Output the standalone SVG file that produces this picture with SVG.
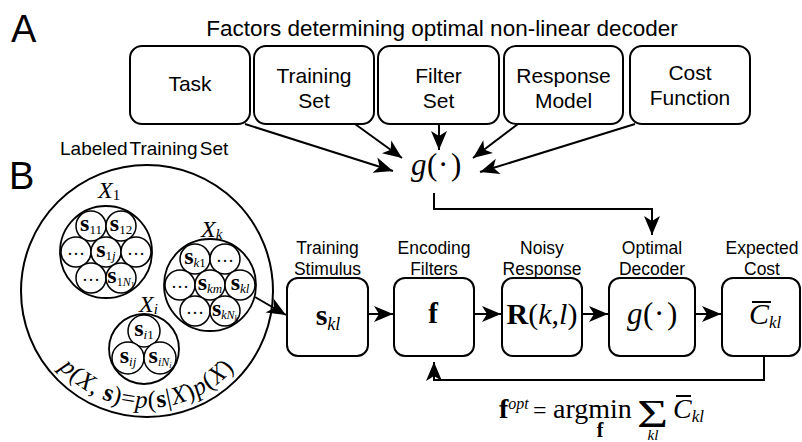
<svg xmlns="http://www.w3.org/2000/svg" width="802" height="442" viewBox="0 0 802 442">
<style>
.box{fill:#fff;stroke:#000;stroke-width:2}
.ln{fill:none;stroke:#000;stroke-width:2}
.sans{font-family:"Liberation Sans",Arial,sans-serif;fill:#000}
.ser{font-family:"Liberation Serif","Times New Roman",serif;fill:#000}
.big{fill:none;stroke:#000;stroke-width:2}
.grp{fill:#fff;stroke:#000;stroke-width:1.8}
.sc{fill:#fff;stroke:#000;stroke-width:1.5}
.st{font-family:"Liberation Serif","Times New Roman",serif;font-size:24px;text-anchor:middle}
.dots{font-family:"Liberation Serif","Times New Roman",serif;font-size:18px;text-anchor:middle}
.b{font-weight:bold}
.i{font-style:italic}
.m{text-anchor:middle}
</style>
<defs>
<marker id="ah" viewBox="-20 -10 22 20" markerWidth="22" markerHeight="20" refX="0" refY="0" markerUnits="userSpaceOnUse" orient="auto">
<path d="M0,0 L-19,-8 L-14,0 L-19,8 Z" fill="#000"/>
</marker>
<path id="arcp" d="M37.1,331 A117,117 0 0 0 256.9,331"/>
</defs>

<g id="panel-labels">
<text x="11" y="42" class="sans" font-size="38">A</text>
<text x="9" y="189" class="sans" font-size="38">B</text>
<text x="442" y="36" class="sans m" font-size="22.5">Factors determining optimal non-linear decoder</text>
</g>

<g id="task"><rect class="box" x="130" y="46" width="120" height="78" rx="12"/><text x="190" y="91" class="sans m" font-size="21">Task</text></g>
<g id="training-set"><rect class="box" x="254" y="46" width="120" height="78" rx="12"/><text class="sans m" font-size="21"><tspan x="314" y="83">Training</tspan><tspan x="314" y="108">Set</tspan></text></g>
<g id="filter-set"><rect class="box" x="378" y="46" width="121" height="78" rx="12"/><text class="sans m" font-size="21"><tspan x="438.5" y="83">Filter</tspan><tspan x="438.5" y="108">Set</tspan></text></g>
<g id="response-model"><rect class="box" x="504" y="46" width="119" height="78" rx="12"/><text class="sans m" font-size="21"><tspan x="563.5" y="83">Response</tspan><tspan x="563.5" y="108">Model</tspan></text></g>
<g id="cost-function"><rect class="box" x="630" y="46" width="120" height="78" rx="12"/><text class="sans m" font-size="21"><tspan x="690" y="80">Cost</tspan><tspan x="690" y="105">Function</tspan></text></g>

<g id="g-decoder-top">
<text class="ser" font-size="31" y="175"><tspan x="411" class="i">g</tspan><tspan x="427">(</tspan><tspan x="438">·</tspan><tspan x="451">)</tspan></text>
</g>

<g id="labeled-training-set">
<text x="60" y="155" class="sans" font-size="19" word-spacing="-3">Labeled Training Set</text>
<circle class="big" cx="147" cy="291" r="126"/>
<text class="ser" font-size="25" letter-spacing="0.8"><textPath href="#arcp" startOffset="50%" text-anchor="middle"><tspan class="i">p</tspan>(<tspan class="i">X</tspan>, <tspan class="b">s</tspan>)=<tspan class="i">p</tspan>(<tspan class="b">s</tspan>|<tspan class="i">X</tspan>)<tspan class="i">p</tspan>(<tspan class="i">X</tspan>)</textPath></text>

<g id="X1">
<text x="98" y="198" class="ser" font-size="24"><tspan class="i">X</tspan><tspan font-size="15" dy="2">1</tspan></text>
<circle class="grp" cx="106" cy="252" r="46"/>
<circle class="sc" cx="91" cy="226" r="15"/><circle class="sc" cx="121" cy="226" r="15"/>
<circle class="sc" cx="76" cy="252" r="15"/><circle class="sc" cx="106" cy="252" r="15"/><circle class="sc" cx="136" cy="252" r="15"/>
<circle class="sc" cx="91" cy="278" r="15"/><circle class="sc" cx="121" cy="278" r="15"/>
<text x="91" y="231" class="st"><tspan class="b">s</tspan><tspan font-size="13" dy="3">11</tspan></text>
<text x="121" y="231" class="st"><tspan class="b">s</tspan><tspan font-size="13" dy="3">12</tspan></text>
<text x="76" y="255" class="dots">…</text>
<text x="106" y="257" class="st"><tspan class="b">s</tspan><tspan font-size="13" dy="3">1</tspan><tspan font-size="13" class="i">j</tspan></text>
<text x="136" y="255" class="dots">…</text>
<text x="91" y="281" class="dots">…</text>
<text x="121" y="283" class="st"><tspan class="b">s</tspan><tspan font-size="12" dy="3">1</tspan><tspan font-size="12" class="i">N</tspan><tspan font-size="8" dy="2">1</tspan></text>
</g>

<g id="Xk">
<text x="201" y="237" class="ser" font-size="24"><tspan class="i">X</tspan><tspan font-size="15" dy="2" class="i">k</tspan></text>
<circle class="grp" cx="210" cy="285" r="46"/>
<circle class="sc" cx="195" cy="259" r="15"/><circle class="sc" cx="225" cy="259" r="15"/>
<circle class="sc" cx="180" cy="285" r="15"/><circle class="sc" cx="210" cy="285" r="15"/><circle class="sc" cx="240" cy="285" r="15"/>
<circle class="sc" cx="195" cy="311" r="15"/><circle class="sc" cx="225" cy="311" r="15"/>
<text x="195" y="264" class="st"><tspan class="b">s</tspan><tspan font-size="13" dy="3" class="i">k</tspan><tspan font-size="13">1</tspan></text>
<text x="225" y="262" class="dots">…</text>
<text x="180" y="288" class="dots">…</text>
<text x="210" y="290" class="st"><tspan class="b">s</tspan><tspan font-size="13" dy="3" class="i">km</tspan></text>
<text x="240" y="290" class="st"><tspan class="b">s</tspan><tspan font-size="13" dy="3" class="i">kl</tspan></text>
<text x="195" y="314" class="dots">…</text>
<text x="225" y="316" class="st"><tspan class="b">s</tspan><tspan font-size="12" dy="3" class="i">kN</tspan><tspan font-size="8" dy="2" class="i">k</tspan></text>
</g>

<g id="Xi">
<text x="139" y="312" class="ser" font-size="24"><tspan class="i">X</tspan><tspan font-size="15" dy="2" class="i">i</tspan></text>
<circle class="grp" cx="144" cy="349" r="35"/>
<circle class="sc" cx="144" cy="331" r="16"/><circle class="sc" cx="128" cy="358" r="16"/><circle class="sc" cx="160" cy="358" r="16"/>
<text x="144" y="336" class="st"><tspan class="b">s</tspan><tspan font-size="13" dy="3" class="i">i</tspan><tspan font-size="13">1</tspan></text>
<text x="128" y="363" class="st"><tspan class="b">s</tspan><tspan font-size="13" dy="3" class="i">ij</tspan></text>
<text x="160" y="363" class="st"><tspan class="b">s</tspan><tspan font-size="12" dy="3" class="i">iN</tspan><tspan font-size="8" dy="2" class="i">i</tspan></text>
</g>
</g>

<g id="training-stimulus">
<text class="sans m" font-size="17.5"><tspan x="327.5" y="254">Training</tspan><tspan x="327.5" y="275">Stimulus</tspan></text>
<rect class="box" x="287" y="278" width="81" height="78" rx="11"/>
<text x="328" y="325" class="ser m" font-size="30"><tspan class="b">s</tspan><tspan font-size="18" dy="5" class="i">kl</tspan></text>
</g>
<g id="encoding-filters">
<text class="sans m" font-size="17.5"><tspan x="434" y="254">Encoding</tspan><tspan x="434" y="275">Filters</tspan></text>
<rect class="box" x="394" y="278" width="80" height="78" rx="11"/>
<text x="433" y="323" class="ser m b" font-size="29">f</text>
</g>
<g id="noisy-response">
<text class="sans m" font-size="17.5"><tspan x="542" y="254">Noisy</tspan><tspan x="542" y="275">Response</tspan></text>
<rect class="box" x="502" y="278" width="80" height="78" rx="11"/>
<text x="542" y="324" class="ser m" font-size="30"><tspan class="b">R</tspan>(<tspan class="i">k</tspan>,<tspan class="i">l</tspan>)</text>
</g>
<g id="optimal-decoder">
<text class="sans m" font-size="17.5"><tspan x="652" y="254">Optimal</tspan><tspan x="652" y="275">Decoder</tspan></text>
<rect class="box" x="609" y="278" width="86" height="78" rx="11"/>
<text class="ser" font-size="31" y="324"><tspan x="627" class="i">g</tspan><tspan x="643">(</tspan><tspan x="654">·</tspan><tspan x="667">)</tspan></text>
</g>
<g id="expected-cost">
<text class="sans m" font-size="17.5"><tspan x="762" y="254">Expected</tspan><tspan x="762" y="275">Cost</tspan></text>
<rect class="box" x="722" y="278" width="78" height="78" rx="11"/>
<text x="749" y="324" class="ser" font-size="30"><tspan class="i">C</tspan><tspan font-size="17" dy="4" class="i">kl</tspan></text>
<line x1="752" y1="302" x2="771" y2="302" stroke="#000" stroke-width="2"/>
</g>

<g id="optimization-formula">
<text class="ser" font-size="28" y="418"><tspan x="499" class="b">f</tspan><tspan font-size="16" class="i" dy="-9">opt</tspan><tspan x="533" dy="9" font-size="24">=</tspan><tspan x="553">argmin</tspan></text>
<text x="600" y="437" class="ser m b" font-size="20">f</text>
<text x="637" y="427" class="ser" font-size="40" textLength="31" lengthAdjust="spacingAndGlyphs">Σ</text>
<text x="653" y="440" class="ser m i" font-size="15">kl</text>
<text x="673" y="418" class="ser" font-size="28"><tspan class="i">C</tspan><tspan font-size="17" dy="4" class="i">kl</tspan></text>
<line x1="676" y1="396" x2="691" y2="396" stroke="#000" stroke-width="2"/>
</g>

<g id="connectors">
<line class="ln" x1="245" y1="124" x2="393" y2="171" marker-end="url(#ah)"/>
<line class="ln" x1="355" y1="124" x2="402" y2="158" marker-end="url(#ah)"/>
<line class="ln" x1="439" y1="124" x2="439" y2="150" marker-end="url(#ah)"/>
<line class="ln" x1="518" y1="124" x2="473" y2="158" marker-end="url(#ah)"/>
<line class="ln" x1="635" y1="124" x2="480" y2="172" marker-end="url(#ah)"/>
<polyline class="ln" points="434,193 434,209 652,209 652,235" marker-end="url(#ah)"/>
<line class="ln" x1="255" y1="297" x2="286" y2="315" marker-end="url(#ah)"/>
<line class="ln" x1="368" y1="314" x2="393" y2="314" marker-end="url(#ah)"/>
<line class="ln" x1="474" y1="314" x2="501" y2="314" marker-end="url(#ah)"/>
<line class="ln" x1="582" y1="314" x2="608" y2="314" marker-end="url(#ah)"/>
<line class="ln" x1="695" y1="314" x2="721" y2="314" marker-end="url(#ah)"/>
<polyline class="ln" points="764,356 764,380 434,380 434,362" marker-end="url(#ah)"/>
</g>
</svg>
